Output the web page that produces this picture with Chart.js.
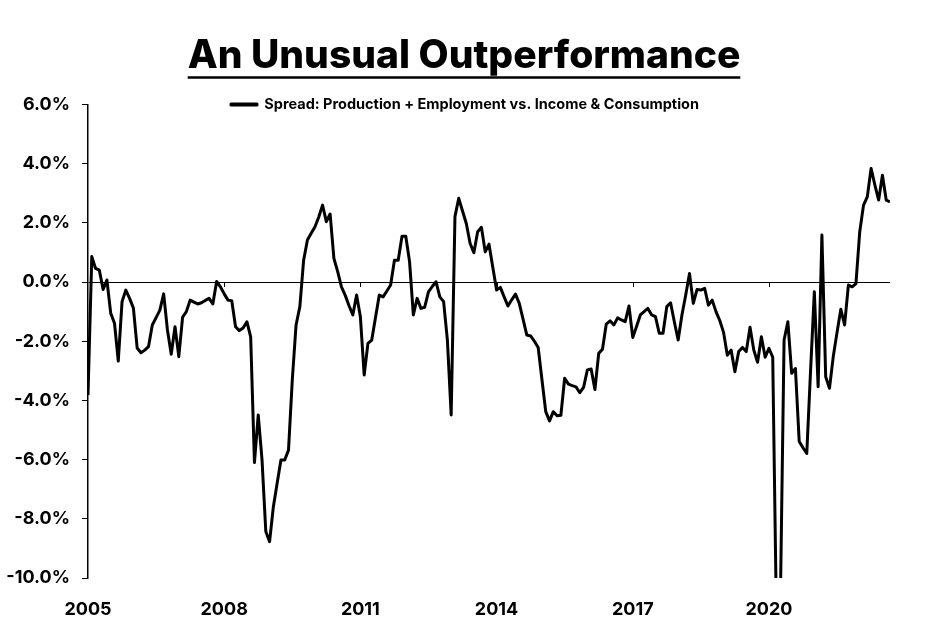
<!DOCTYPE html>
<html>
<head>
<meta charset="utf-8">
<script src="https://cdn.jsdelivr.net/npm/chart.js@4.4.0/dist/chart.umd.min.js"></script>
<style>
body { margin: 0; background: #fff; }
#spread-chart { display: block; }
</style>
</head>
<body>
<canvas id="spread-chart" width="937" height="643"></canvas>
<script>
var start_year = 2005
var year_labels = [2005, 2008, 2011, 2014, 2017, 2020]
var y_ticks = [6, 4, 2, 0, -2, -4, -6, -8, -10]
var chart_title = 'An Unusual Outperformance'
var series_label = 'Spread: Production + Employment vs. Income & Consumption'

// monthly spread in %, starting Jan 2005
var spread_2005_2008 = [
    -3.82, 0.86, 0.46, 0.4, -0.25, 0.07, -1.05, -1.39, -2.67, -0.66, -0.27, -0.55,
    -0.88, -2.23, -2.39, -2.3, -2.18, -1.45, -1.2, -0.95, -0.4, -1.62, -2.44, -1.51,
    -2.52, -1.19, -1.0, -0.61, -0.68, -0.74, -0.7, -0.62, -0.55, -0.74, 0.02, -0.16,
    -0.4, -0.61, -0.63, -1.51, -1.64, -1.55, -1.34, -1.85, -6.1, -4.49, -6.01, -8.43
]
var spread_2009_2012 = [
    -8.77, -7.59, -6.8, -6.01, -6.01, -5.68, -3.31, -1.45, -0.83, 0.74, 1.42, 1.65,
    1.87, 2.2, 2.6, 2.04, 2.3, 0.8, 0.35, -0.16, -0.45, -0.8, -1.11, -0.44,
    -1.17, -3.14, -2.07, -1.96, -1.2, -0.44, -0.5, -0.3, -0.1, 0.74, 0.74, 1.55,
    1.55, 0.69, -1.11, -0.55, -0.89, -0.85, -0.33, -0.15, 0.01, -0.5, -0.66, -1.96
]
var spread_2013_2016 = [
    -4.49, 2.21, 2.83, 2.4, 1.98, 1.31, 0.99, 1.7, 1.85, 1.02, 1.28, 0.5,
    -0.27, -0.18, -0.5, -0.81, -0.6, -0.41, -0.72, -1.25, -1.79, -1.82, -2.0, -2.21,
    -3.3, -4.38, -4.69, -4.38, -4.52, -4.5, -3.25, -3.45, -3.5, -3.54, -3.74, -3.56,
    -2.97, -2.94, -3.63, -2.41, -2.27, -1.42, -1.31, -1.45, -1.21, -1.28, -1.34, -0.81
]
var spread_2017_2020 = [
    -1.87, -1.5, -1.11, -1.0, -0.89, -1.11, -1.17, -1.73, -1.73, -0.83, -0.7, -1.35,
    -1.96, -1.11, -0.44, 0.29, -0.72, -0.25, -0.27, -0.21, -0.78, -0.61, -1.0, -1.3,
    -1.7, -2.47, -2.3, -3.03, -2.35, -2.21, -2.35, -1.53, -2.3, -2.71, -1.85, -2.54,
    -2.24, -2.54, -11.5, -11, -1.96, -1.34, -3.08, -2.92, -5.39, -5.6, -5.79, -3.0
]
var spread_2021_2022 = [
    -0.33, -3.54, 1.59, -3.2, -3.59, -2.52, -1.7, -0.92, -1.45, -0.1, -0.16, -0.05,
    1.7, 2.6, 2.88, 3.84, 3.28, 2.77, 3.61, 2.77, 2.71
]

var spread = spread_2005_2008.concat(spread_2009_2012, spread_2013_2016, spread_2017_2020, spread_2021_2022)
var spread_points = spread.map(function (v, i) { return {x: i, y: v} })

var font_family = 'Inter, "Open Sans", sans-serif'
var title_size = 39
var title_pad_top = 23
var legend_size = 14.5

// title and legend sit centred on the page, legend level with the top gridline
var shift_boxes = {
    id: 'shift_boxes',
    afterLayout: function (chart) {
        var t = chart.titleBlock
        t.right = t.right + 38
        var lg = chart.legend
        lg.left = lg.left + 20
        lg.right = lg.right + 20
        var dy = chart.chartArea.top - (lg.top + legend_size / 2)
        lg.top = lg.top + dy
        lg.bottom = lg.bottom + dy
    }
}

// underline under the title, like the original
var title_underline = {
    id: 'title_underline',
    afterDraw: function (chart) {
        var t = chart.titleBlock
        var ctx = chart.ctx
        ctx.save()
        ctx.font = '800 ' + title_size + 'px ' + font_family
        var w = ctx.measureText(chart_title).width
        var cx = (t.left + t.right) / 2
        var cy = t.top + title_pad_top + title_size * 1.2 / 2
        ctx.strokeStyle = '#000'
        ctx.lineWidth = 2.5
        ctx.beginPath()
        ctx.moveTo(cx - w / 2, cy + 21)
        ctx.lineTo(cx + w / 2, cy + 21)
        ctx.stroke()
        ctx.restore()
    }
}

// small tick marks hanging under the zero line
var zero_ticks = {
    id: 'zero_ticks',
    afterDatasetsDraw: function (chart) {
        var x = chart.scales.x
        var y0 = chart.scales.y.getPixelForValue(0)
        var ctx = chart.ctx
        ctx.save()
        ctx.strokeStyle = '#000'
        ctx.lineWidth = 1
        x.ticks.forEach(function (t, i) {
            if (i == 0) return
            var px = Math.round(x.getPixelForValue(t.value)) + 0.5
            ctx.beginPath()
            ctx.moveTo(px, y0)
            ctx.lineTo(px, y0 + 5)
            ctx.stroke()
        })
        ctx.restore()
    }
}

var ctx = document.getElementById('spread-chart').getContext('2d')
var spread_chart = new Chart(ctx, {
    type: 'line',
    data: {
        datasets: [{
            label: series_label,
            data: spread_points,
            borderColor: '#000',
            backgroundColor: '#000',
            borderWidth: 3,
            borderJoinStyle: 'round',
            pointRadius: 0,
            tension: 0,
            fill: false,
        }]
    },
    plugins: [shift_boxes, title_underline, zero_ticks],
    options: {
        responsive: false,
        animation: false,
        devicePixelRatio: 1,
        layout: {
            padding: {top: 10, right: 47, bottom: 0, left: 0}
        },
        plugins: {
            title: {
                display: true,
                text: chart_title,
                color: '#000',
                font: {family: font_family, size: title_size, weight: 800},
                padding: {top: title_pad_top, bottom: 0.2}
            },
            legend: {
                display: true,
                position: 'top',
                align: 'center',
                labels: {
                    color: '#000',
                    font: {family: font_family, size: legend_size, weight: 700},
                    boxWidth: 26,
                    boxHeight: 1,
                    padding: 0
                }
            },
            tooltip: {enabled: false}
        },
        scales: {
            x: {
                type: 'linear',
                min: 0,
                max: spread.length - 1,
                afterBuildTicks: function (s) {
                    s.ticks = year_labels.map(function (yr) { return {value: (yr - start_year) * 12} })
                },
                afterFit: function (s) { s.height = 65 },
                ticks: {
                    callback: function (v) { return start_year + v / 12 },
                    color: '#000',
                    font: {family: font_family, size: 18, weight: 700},
                    padding: 21,
                    maxRotation: 0,
                    autoSkip: false
                },
                grid: {display: false, drawTicks: false},
                border: {display: false}
            },
            y: {
                min: -10,
                max: 6,
                afterBuildTicks: function (s) {
                    s.ticks = y_ticks.map(function (v) { return {value: v} })
                },
                afterFit: function (s) { s.width = 88 },
                ticks: {
                    callback: function (v) { return v.toFixed(1) + '%' },
                    color: '#000',
                    font: {family: font_family, size: 18, weight: 700},
                    padding: 12
                },
                grid: {
                    color: function (c) { return c.tick && c.tick.value === 0 ? '#000' : 'rgba(0,0,0,0)' },
                    tickColor: '#000',
                    tickLength: 6,
                    lineWidth: 1
                },
                border: {display: true, color: '#000', width: 1.5}
            }
        }
    }
});
</script>
</body>
</html>
